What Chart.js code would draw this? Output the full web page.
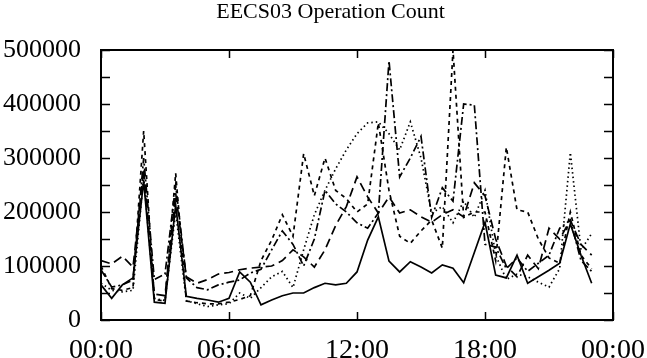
<!DOCTYPE html>
<html><head><meta charset="utf-8">
<script src="https://cdn.jsdelivr.net/npm/chart.js@4.4.1/dist/chart.umd.min.js"></script>
<style>html,body{margin:0;padding:0;background:#fff;overflow:hidden}</style>
</head><body>
<canvas id="c" width="647" height="358"></canvas>
<script>
const chartTitle = "EECS03 Operation Count";
const times = ["00:00","00:30","01:00","01:30","02:00","02:30","03:00","03:30","04:00","04:30",
  "05:00","05:30","06:00","06:30","07:00","07:30","08:00","08:30","09:00","09:30",
  "10:00","10:30","11:00","11:30","12:00","12:30","13:00","13:30","14:00","14:30",
  "15:00","15:30","16:00","16:30","17:00","17:30","18:00","18:30","19:00","19:30",
  "20:00","20:30","21:00","21:30","22:00","22:30","23:00"];
const xTickHours = [0, 6, 12, 18, 24];
const xTickLabels = ["00:00", "06:00", "12:00", "18:00", "00:00"];
const yTicks = [0,50000,100000,150000,200000,250000,300000,350000,400000,450000,500000];

const seriesSolid = [65000,40000,65000,78000,258000,33000,31000,213000,44000,40000,
  37000,33000,40000,89000,70000,28000,37000,45000,50000,50000,
  60000,68000,65000,68000,89000,148000,191000,109000,89000,108000,
  98000,87000,102000,96000,69000,125000,181000,83000,78000,120000,
  68000,80000,92000,105000,178000,120000,68000];
const seriesLongDash = [110000,104000,118000,98000,280000,48000,45000,235000,80000,68000,
  75000,85000,88000,93000,96000,98000,100000,110000,130000,117000,
  98000,130000,175000,210000,265000,228000,198000,228000,198000,204000,
  191000,181000,195000,204000,191000,254000,230000,150000,100000,80000,
  120000,95000,170000,150000,185000,140000,120000];
const seriesDotted = [68000,55000,52000,55000,265000,40000,36000,200000,36000,30000,
  25000,28000,30000,50000,40000,60000,80000,90000,60000,130000,
  195000,240000,280000,315000,345000,365000,367000,345000,315000,367000,
  300000,198000,210000,180000,220000,190000,240000,120000,75000,85000,
  80000,70000,61000,95000,310000,130000,160000];
const seriesShortDash = [100000,58000,55000,60000,350000,38000,35000,272000,35000,32000,
  30000,30000,33000,38000,45000,110000,148000,195000,155000,308000,
  230000,300000,240000,225000,200000,215000,365000,240000,155000,142000,
  165000,185000,133000,500000,190000,200000,200000,110000,320000,204000,
  200000,150000,115000,105000,200000,120000,95000];
const seriesDashDot = [93000,61000,65000,74000,300000,75000,85000,250000,78000,60000,
  56000,65000,70000,74000,87000,94000,130000,165000,140000,100000,
  150000,240000,215000,200000,180000,170000,198000,480000,265000,300000,
  340000,190000,245000,220000,400000,398000,140000,135000,95000,115000,
  90000,105000,120000,170000,185000,110000,90000];

const toHours = t => { const p = t.split(":").map(Number); return p[0] + p[1] / 60; };
const pts = arr => times.map((t, i) => ({ x: toHours(t), y: arr[i] }));

const styles = [
  { data: seriesSolid, dash: [] },
  { data: seriesLongDash, dash: [9, 5] },
  { data: seriesDotted, dash: [1.5, 3] },
  { data: seriesShortDash, dash: [4, 4] },
  { data: seriesDashDot, dash: [8, 3, 2, 3] }
];

const frame = {
  id: "frame",
  afterLayout(chart) {
    if (chart.titleBlock) { chart.titleBlock.left += 7; chart.titleBlock.right += 7; }
  },
  afterDraw(chart) {
    const { ctx, chartArea: a, scales } = chart;
    ctx.save();
    ctx.strokeStyle = "#000";
    ctx.lineWidth = 2;
    ctx.strokeRect(a.left, a.top, a.right - a.left, a.bottom - a.top);
    ctx.lineWidth = 1.5;
    ctx.beginPath();
    yTicks.forEach(v => {
      const y = Math.round(scales.y.getPixelForValue(v)) + 0.5;
      ctx.moveTo(a.left, y); ctx.lineTo(a.left + 9, y);
      ctx.moveTo(a.right, y); ctx.lineTo(a.right - 9, y);
    });
    xTickHours.forEach(v => {
      const x = Math.round(scales.x.getPixelForValue(v)) + 0.5;
      ctx.moveTo(x, a.bottom); ctx.lineTo(x, a.bottom - 8);
      ctx.moveTo(x, a.top); ctx.lineTo(x, a.top + 8);
    });
    ctx.stroke();
    ctx.restore();
  }
};

new Chart(document.getElementById("c"), {
  type: "line",
  data: {
    datasets: styles.map((s, i) => ({
      label: "s" + i,
      data: pts(s.data),
      borderColor: "#000",
      borderWidth: 1.7,
      borderDash: s.dash,
      pointRadius: 0,
      tension: 0,
      fill: false
    }))
  },
  options: {
    responsive: false,
    animation: false,
    layout: { padding: 0 },
    plugins: {
      legend: { display: false },
      tooltip: { enabled: false },
      title: {
        display: true,
        text: chartTitle,
        color: "#000",
        font: { family: "Liberation Serif", size: 22, weight: "normal", lineHeight: 1 },
        padding: { top: 1, bottom: 27 }
      }
    },
    scales: {
      x: {
        type: "linear", min: 0, max: 24,
        afterBuildTicks: s => { s.ticks = xTickHours.map(v => ({ value: v })); },
        ticks: {
          autoSkip: false, maxRotation: 0, color: "#000", padding: 14,
          font: { family: "Liberation Serif", size: 28 },
          callback: v => xTickLabels[xTickHours.indexOf(v)]
        },
        grid: { display: false, drawTicks: false },
        border: { display: false },
        afterFit: s => { s.height = 38; s.paddingRight = 34; s.paddingLeft = 0; }
      },
      y: {
        min: 0, max: 500000,
        afterBuildTicks: s => { s.ticks = yTicks.map(v => ({ value: v })); },
        ticks: {
          color: "#000", padding: 20,
          font: { family: "Liberation Serif", size: 26 },
          callback: v => String(v)
        },
        grid: { display: false, drawTicks: false },
        border: { display: false },
        afterFit: s => { s.width = 101; }
      }
    }
  },
  plugins: [frame]
});
</script>
</body></html>
